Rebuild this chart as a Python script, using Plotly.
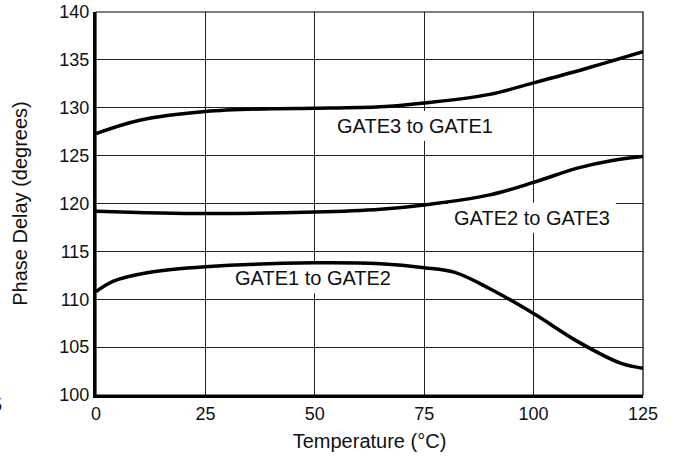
import plotly.graph_objects as go

# Phase delay vs. temperature for the three gate pairs
temp_g31 = [0, 10, 25, 40, 50, 65, 75, 90, 100, 112, 125]
delay_g31 = [127.3, 128.7, 129.6, 129.9, 129.95, 130.1, 130.5, 131.4, 132.6, 134.1, 135.85]

temp_g23 = [0, 25, 50, 65, 75, 90, 100, 110, 118, 125]
delay_g23 = [119.2, 118.95, 119.1, 119.4, 119.85, 120.9, 122.2, 123.7, 124.5, 124.9]

temp_g12 = [0, 4, 12, 25, 50, 65, 75, 82, 90, 100, 110, 120, 125]
delay_g12 = [110.8, 111.9, 112.8, 113.4, 113.8, 113.7, 113.3, 112.8, 111.1, 108.5, 105.6, 103.3, 102.8]

series = [
    ("GATE3 to GATE1", temp_g31, delay_g31),
    ("GATE2 to GATE3", temp_g23, delay_g23),
    ("GATE1 to GATE2", temp_g12, delay_g12),
]

# Curve labels and where they sit on the chart
label_text = ["GATE3 to GATE1", "GATE2 to GATE3", "GATE1 to GATE2"]
label_x = [72.8, 99.6, 49.6]
label_y = [128.1, 118.5, 112.2]

x_ticks = [0, 25, 50, 75, 100, 125]
y_ticks = [100, 105, 110, 115, 120, 125, 130, 135, 140]

font_family = "Liberation Sans, Arial, sans-serif"
ink = "#111111"

fig = go.Figure()
for name, xs, ys in series:
    fig.add_trace(go.Scatter(
        x=xs, y=ys, mode="lines", name=name,
        line=dict(color="black", width=3.5, shape="spline", smoothing=1.0),
        showlegend=False, hoverinfo="skip",
    ))

for txt, lx, ly in zip(label_text, label_x, label_y):
    # white patch that hides the grid behind the label, kept under the curves
    fig.add_shape(
        type="rect", layer="between",
        xref="x", yref="y", xsizemode="pixel", ysizemode="pixel",
        xanchor=lx, yanchor=ly, x0=-84, x1=84, y0=-15, y1=15,
        fillcolor="white", line=dict(width=0),
    )
    fig.add_annotation(
        x=lx, y=ly, text=txt, showarrow=False,
        font=dict(family=font_family, size=20, color=ink),
    )

# thin frame for the top and right edges
fig.add_shape(type="rect", xref="paper", yref="paper", x0=0, y0=0, x1=1, y1=1,
              line=dict(color="black", width=1.2), layer="above")

# partially cut-off tick label at the left edge
fig.add_annotation(xref="paper", yref="paper", x=-0.168, y=-0.026, text="25",
                   showarrow=False, xanchor="right", yanchor="middle",
                   font=dict(family=font_family, size=18, color=ink))

axis_common = dict(
    showgrid=True, gridcolor="#222222", gridwidth=1.2,
    showline=True, linecolor="black", linewidth=3,
    ticks="", zeroline=False, automargin=False,
    tickfont=dict(family=font_family, size=18, color=ink),
)

fig.update_xaxes(
    range=[0, 125], tickvals=x_ticks, ticktext=[str(v) for v in x_ticks],
    title=dict(text="Temperature (°C)", font=dict(family=font_family, size=20, color=ink), standoff=12),
    **axis_common,
)
fig.update_yaxes(
    range=[100, 140], tickvals=y_ticks, ticktext=[str(v) for v in y_ticks],
    title=dict(text="Phase Delay (degrees)", font=dict(family=font_family, size=20, color=ink), standoff=27),
    **axis_common,
)

fig.update_layout(
    width=676, height=461,
    margin=dict(l=96, r=33, t=12, b=66),
    plot_bgcolor="white", paper_bgcolor="white",
)

fig.write_html("out.html")
